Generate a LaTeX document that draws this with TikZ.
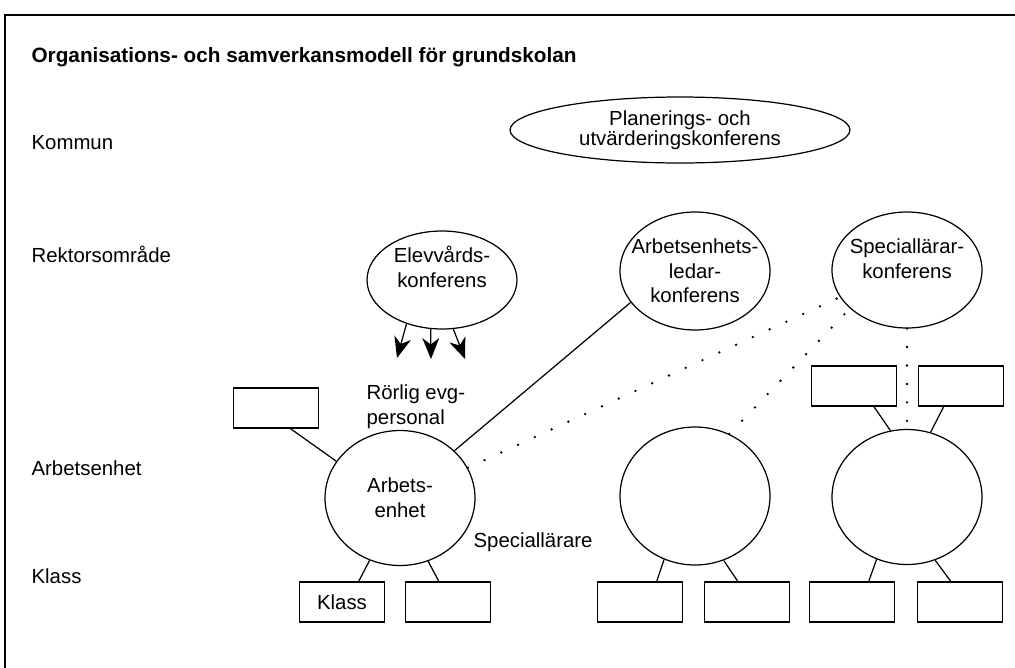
\documentclass[tikz,border=0pt]{standalone}
\usepackage{fontspec}
\setmainfont{Liberation Sans}
\usetikzlibrary{shapes.geometric,arrows.meta}

\tikzset{
  conf/.style={draw, ellipse, minimum width=3cm, minimum height=2.7cm, inner sep=0pt},
  box/.style={draw, minimum width=1.7cm, minimum height=0.8cm, inner sep=0pt},
  dotline/.style={line width=1.5pt, line cap=round, dash pattern=on 0pt off 10.5pt},
  rowlabel/.style={anchor=base west, inner sep=0pt},
}

\begin{document}
\begin{tikzpicture}[x=0.02cm, y=-0.02cm, font=\fontsize{11.6}{14}\selectfont, line width=0.7pt,
    >={Stealth[length=4.2mm,width=3.4mm,inset=1.3mm]}]
    \useasboundingbox (0,0) rectangle (1015,667);
    \clip (0,0) rectangle (1015,667);
    % frame
    \draw[line width=1.7pt] (5,700) |- (1030,15);

    % title and levels
    \node[rowlabel, font=\fontsize{11.8}{14}\selectfont\bfseries] (title) at (31,62) {Organisations- och samverkansmodell för grundskolan};
    \node[rowlabel] (kommun) at (31,149) {Kommun};
    \node[rowlabel] (rektor) at (31,262) {Rektorsområde};
    \node[rowlabel] (arbets) at (31,475) {Arbetsenhet};
    \node[rowlabel] (klass) at (31,583) {Klass};

    % Kommun
    \node[conf, minimum width=6.8cm, minimum height=1.32cm,
        label={[align=center, font=\fontsize{11.6}{11.5}\selectfont]center:{Planerings- och\\utvärderingskonferens}}] (plan) at (680,130) {};

    % Rektorsområde
    \node[conf, minimum height=1.96cm,
        label={[align=center, yshift=2.6mm]center:{Elevvårds-\\konferens}}] (elev) at (442,280) {};
    \node[conf, minimum height=2.36cm,
        label={[align=center]center:{Arbetsenhets-\\ledar-\\konferens}}] (aeledar) at (695,271) {};
    \node[conf, minimum height=2.32cm,
        label={[align=center, yshift=2.2mm]center:{Speciallärar-\\konferens}}] (spec) at (907,270) {};

    \coordinate (ev1) at (397,358);
    \coordinate (ev2) at (431,359);
    \coordinate (ev3) at (465,359);
    \draw[->] (elev.231) -- (ev1);
    \draw[->] (elev.257) -- (ev2);
    \draw[->] (elev.283) -- (ev3);

    % Arbetsenhet
    \node[conf, label={[align=center]center:{Arbets-\\enhet}}] (aeL) at (400,498) {};
    \node[conf, minimum height=2.76cm] (aeM) at (695,496) {};
    \node[conf] (aeR) at (907,497) {};

    \node[anchor=west, align=left, inner sep=0pt] (rorlig) at (366,407) {Rörlig evg-\\personal};
    \node[anchor=west, inner sep=0pt] (spl) at (473,542) {Speciallärare};

    \node[box] (extL) at (276,408) {};
    \node[box] (extR1) at (854,386) {};
    \node[box] (extR2) at (961,386) {};
    \draw (extL.-55) -- (aeL.150);
    \draw (extR1.-46) -- (aeR.104);
    \draw (extR2.230) -- (aeR.70);

    \draw (aeledar.206) -- (aeL.41);
    \draw[dotline] (aeL.24) -- (spec.202);
    \draw[dotline] (aeM.61) -- (spec.214);
    \draw[dotline] (spec.south) -- (aeR.north);

    % Klass
    \node[box] (kL1) at (342,602) {Klass};
    \node[box] (kL2) at (448,602) {};
    \node[box] (kM1) at (640,602) {};
    \node[box] (kM2) at (747,602) {};
    \node[box] (kR1) at (852,602) {};
    \node[box] (kR2) at (960,602) {};
    \draw (kL1.51) -- (aeL.244);
    \draw (kL2.114) -- (aeL.294);
    \draw (kM1.51) -- (aeM.244);
    \draw (kM2.114) -- (aeM.294);
    \draw (kR1.51) -- (aeR.244);
    \draw (kR2.114) -- (aeR.294);
\end{tikzpicture}
\end{document}
